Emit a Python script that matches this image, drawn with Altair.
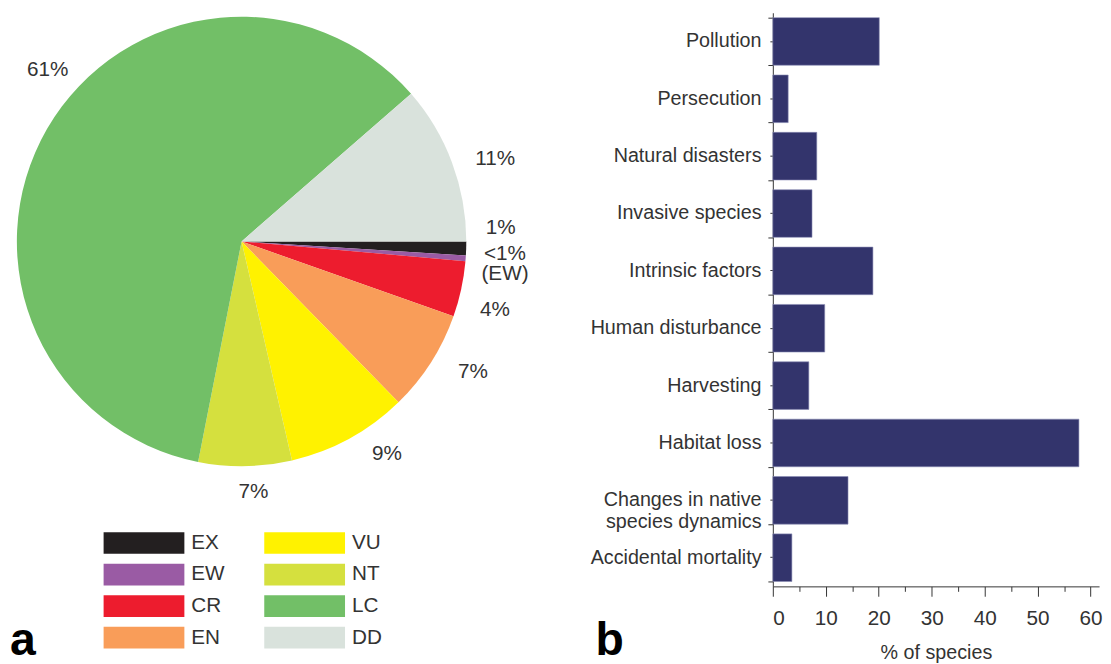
import math
import altair as alt
import pandas as pd

# ---------------- data ----------------
status = ["EX", "EW", "CR", "EN", "VU", "NT", "LC", "DD"]
status_share = [1.0, 0.4, 4.0, 7.3, 8.7, 6.7, 60.5, 11.4]
status_label = ["1%", "<1%\n(EW)", "4%", "7%", "9%", "7%", "61%", "11%"]
status_color = ["#231f20", "#9a5ba4", "#ed1c2e", "#f99d59", "#fff200",
                "#d5e03e", "#72bf67", "#d9e2dc"]

threats = ["Pollution", "Persecution", "Natural disasters", "Invasive species",
           "Intrinsic factors", "Human disturbance", "Harvesting", "Habitat loss",
           "Changes in native species dynamics", "Accidental mortality"]
threat_pct = [20.1, 2.9, 8.3, 7.4, 18.9, 9.8, 6.8, 57.8, 14.2, 3.6]
x_major_ticks = [0, 10, 20, 30, 40, 50, 60]
x_minor_ticks = [5, 15, 25, 35, 45, 55]
panel_letters = ["a", "b"]

FONT = "Liberation Sans"
TXT = "#333333"

pie_df = pd.DataFrame({
    "status": status,
    "share": status_share,
    "label": status_label,
    "ord": list(range(len(status))),
})
bar_df = pd.DataFrame({"threat": threats, "pct": threat_pct})

# ---------------- pie ----------------
total = float(sum(status_share))
theta_scale = alt.Scale(domain=[0, total],
                        range=[math.pi / 2, math.pi / 2 + 2 * math.pi])
base = alt.Chart(pie_df)

arcs = base.mark_arc(outerRadius=228).encode(
    theta=alt.Theta("share:Q", stack=True, scale=theta_scale),
    order=alt.Order("ord:Q"),
    color=alt.Color(
        "status:N",
        scale=alt.Scale(domain=status, range=status_color),
        legend=alt.Legend(
            title=None,
            orient="none",
            legendX=97,
            legendY=527,
            columns=2,
            direction="vertical",
            columnPadding=40,
            rowPadding=10,
            padding=0,
            symbolType="M-1,-1H6.45V1H-1Z",
            symbolSize=484,
            symbolStrokeWidth=0,
            symbolOpacity=1,
            labelOffset=67,
            labelFont=FONT,
            labelFontSize=21,
            labelColor=TXT,
        ),
    ),
)

# per-label nudges (style only)
nudges = {
    "EX": (1, -22), "EW": (6, -7), "CR": (1, 14), "EN": (14, -8),
    "VU": (22, -14), "NT": (8, -8), "LC": (30, -43), "DD": (12, 8),
}
stacked = base.transform_window(
    cum="sum(share)", sort=[alt.SortField("ord")]
).transform_calculate(mid="datum.cum - datum.share / 2")

label_layers = []
for s in status:
    dx, dy = nudges[s]
    label_layers.append(
        stacked.transform_filter(alt.datum.status == s)
        .mark_text(radius=262, font=FONT, fontSize=21, color=TXT,
                   lineBreak="\n", lineHeight=20, dx=dx, dy=dy)
        .encode(theta=alt.Theta("mid:Q", scale=theta_scale), text="label:N")
    )

letter_a = alt.Chart(pd.DataFrame({"t": [panel_letters[0]]})).mark_text(
    font=FONT, fontSize=47, fontWeight="bold", color="black",
    align="left", baseline="alphabetic",
).encode(x=alt.value(2), y=alt.value(652), text="t:N")

pie = alt.layer(arcs, *label_layers, letter_a).properties(width=474, height=464)

# ---------------- bars ----------------
x_scale = alt.Scale(domain=[0, 61.6], nice=False, zero=True)
y_scale = alt.Scale(paddingInner=0.17, paddingOuter=0.085)

bars = alt.Chart(bar_df).mark_bar(color="#33346c", stroke="#8a8cb4",
                                  strokeWidth=0.6).encode(
    y=alt.Y("threat:N", sort=threats, scale=y_scale,
            axis=alt.Axis(
                title=None, orient="left", tickSize=3, labelPadding=9,
                labelFont=FONT, labelFontSize=20, labelColor=TXT,
                labelLineHeight=22, domainColor="#333", tickColor="#333",
                labelExpr="datum.label == 'Changes in native species dynamics' ? ['Changes in native', 'species dynamics'] : datum.label",
            )),
    x=alt.X("pct:Q", scale=x_scale,
            axis=alt.Axis(
                title="% of species", values=x_major_ticks, orient="bottom",
                tickSize=10, labelPadding=12, labelFont=FONT, labelFontSize=21,
                labelColor=TXT, titleFont=FONT, titleFontSize=20, titleColor=TXT,
                titleFontWeight="normal", titlePadding=14,
                domainColor="#333", tickColor="#333", grid=False,
            )),
)

# invisible twin layer carrying the minor x ticks and the band-edge y ticks
minor = alt.Chart(bar_df).mark_bar(opacity=0).encode(
    y=alt.Y("threat:N", sort=threats, scale=y_scale,
            axis=alt.Axis(
                title=None, orient="left", tickBand="extent", tickSize=5,
                labels=False, domain=False, tickColor="#333",
            )),
    x=alt.X("pct:Q", scale=x_scale,
            axis=alt.Axis(
                title=None, values=x_minor_ticks, orient="bottom", tickSize=5,
                labels=False, domain=False, tickColor="#333", grid=False,
            )),
)

letter_b = alt.Chart(pd.DataFrame({"t": [panel_letters[1]]})).mark_text(
    font=FONT, fontSize=47, fontWeight="bold", color="black",
    align="left", baseline="alphabetic",
).encode(x=alt.value(-180), y=alt.value(652), text="t:N")

bar_panel = alt.layer(bars, minor, letter_b).resolve_axis(
    x="independent", y="independent").properties(width=331, height=582)

chart = alt.hconcat(pie, bar_panel, spacing=61).properties(
    padding=0, background="white"
).configure_view(strokeWidth=0, stroke="transparent")

chart.save("out.html", embed_options={"renderer": "svg", "actions": False})
